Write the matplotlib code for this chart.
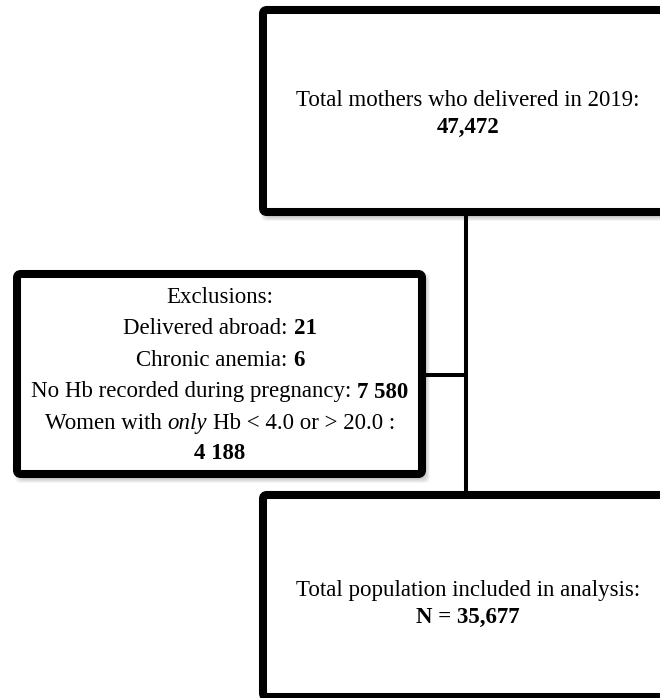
import matplotlib.pyplot as plt
from matplotlib.patches import FancyBboxPatch

# text content of the flow chart
top_title = "Total mothers who delivered in 2019:"
top_count = "47,472"
excl_header = "Exclusions:"
excl_labels = ["Delivered abroad:", "Chronic anemia:", "No Hb recorded during pregnancy:"]
excl_counts = ["21", "6", "7 580"]
excl_range_label = ["Women with", "only", "Hb < 4.0 or > 20.0 :"]
excl_range_count = "4 188"
final_title = "Total population included in analysis:"
final_count = "N = 35,677"

W, H = 660, 698
FONT = "Liberation Serif"
SIZE = 16.5

fig = plt.figure(figsize=(W / 100, H / 100), dpi=100)
ax = fig.add_axes([0, 0, 1, 1])
ax.set_xlim(0, W)
ax.set_ylim(H, 0)
ax.axis("off")
renderer = fig.canvas.get_renderer()


def text_width(s, weight="normal", style="normal"):
    t = ax.text(0, 0, s, fontsize=SIZE, family=FONT, weight=weight, style=style)
    w = t.get_window_extent(renderer).width
    t.remove()
    return w


SPACE = text_width("a a") - text_width("aa")


def draw_line(cx, y, parts):
    """parts: list of (text, weight, style), joined with single spaces."""
    widths = [text_width(*p) for p in parts]
    total = sum(widths) + SPACE * (len(parts) - 1)
    x = cx - total / 2
    for (s, weight, style), w in zip(parts, widths):
        ax.text(x, y, s, fontsize=SIZE, family=FONT, weight=weight,
                style=style, va="baseline", ha="left", color="black")
        x += w + SPACE


def draw_box(x0, y0, x1, y1):
    # soft drop shadow
    for i in range(6):
        ax.add_patch(FancyBboxPatch((x0 + 3 - i, y0 + 4 - i), x1 - x0 + 2 * i, y1 - y0 + 2 * i,
                                    boxstyle="round,pad=0,rounding_size=6",
                                    facecolor="black", edgecolor="none",
                                    alpha=0.045, zorder=1))
    ax.add_patch(FancyBboxPatch((x0, y0), x1 - x0, y1 - y0,
                                boxstyle="round,pad=0,rounding_size=4",
                                facecolor="white", edgecolor="black",
                                linewidth=5.8, zorder=2))


# connectors
ax.plot([465.5, 465.5], [214, 492], color="black", lw=2.9, zorder=0.5,
        solid_capstyle="butt")
ax.plot([424, 465.5], [375, 375], color="black", lw=2.9, zorder=0.5,
        solid_capstyle="butt")

# top box
draw_box(263, 10, 667, 212)
draw_line(468, 106, [(top_title, "normal", "normal")])
draw_line(468, 133, [(top_count, "bold", "normal")])

# exclusions box
draw_box(17, 274, 422, 474)
draw_line(220, 303, [(excl_header, "normal", "normal")])
ys = [334.5, 366, 397.5]
for label, count, y in zip(excl_labels, excl_counts, ys):
    draw_line(220, y, [(label, "normal", "normal"), (count, "bold", "normal")])
draw_line(220, 429, [(excl_range_label[0], "normal", "normal"),
                     (excl_range_label[1], "normal", "italic"),
                     (excl_range_label[2], "normal", "normal")])
draw_line(220, 459, [(excl_range_count, "bold", "normal")])

# final box
draw_box(263, 495, 667, 697)
draw_line(468, 596, [(final_title, "normal", "normal")])
draw_line(468, 623, [(final_count, "bold", "normal")])

fig.savefig("out.png", dpi=100)
plt.close(fig)
